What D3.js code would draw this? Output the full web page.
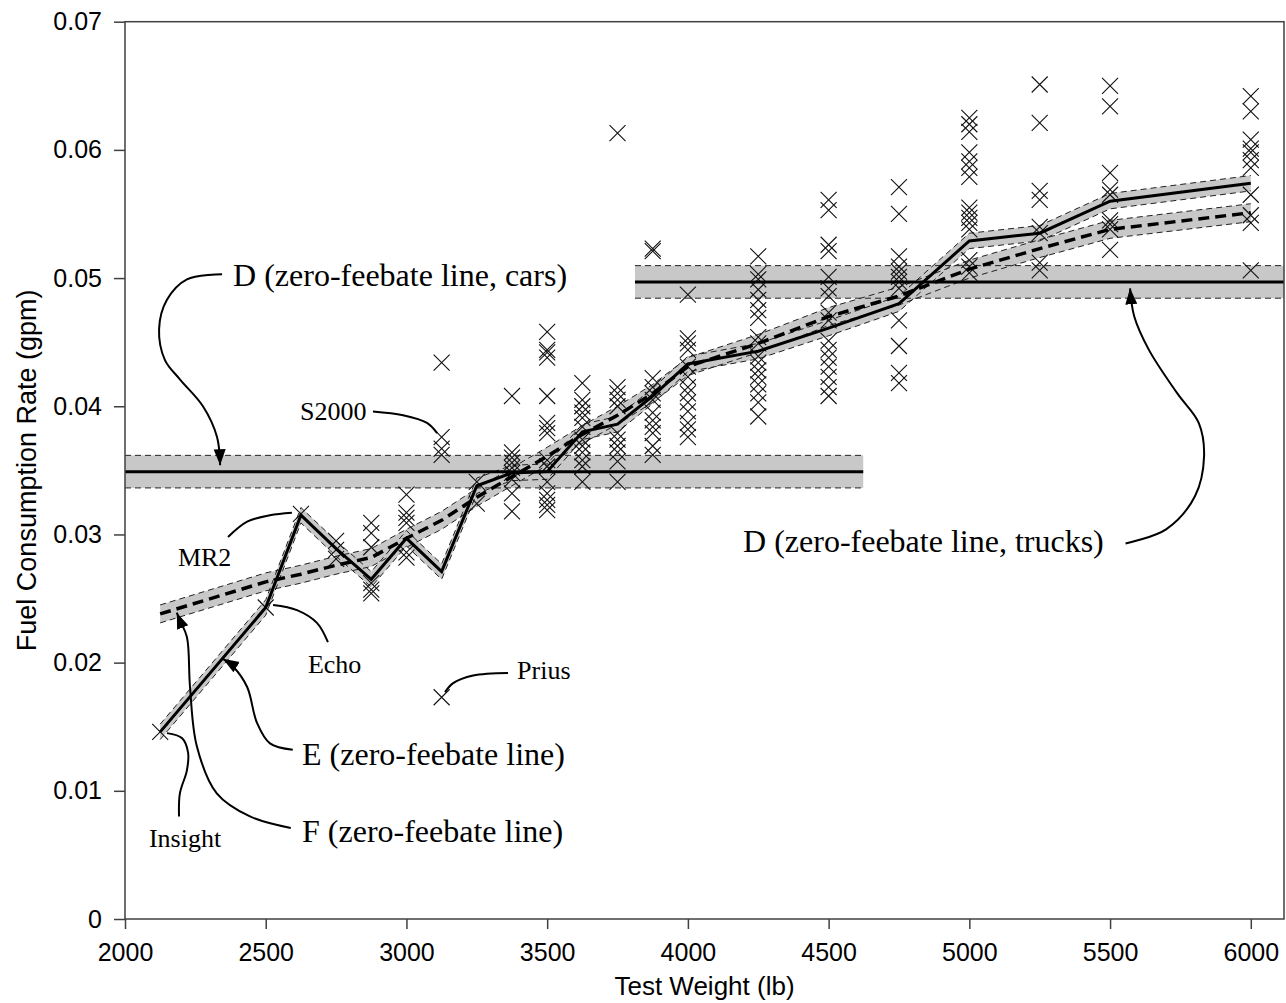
<!DOCTYPE html>
<html>
<head>
<meta charset="utf-8">
<script src="https://cdn.jsdelivr.net/npm/d3@7"></script>
<style>
  body { margin: 0; background: #fff; }
  .tick text { font-family: "Liberation Sans", Arial, sans-serif; font-size: 25px; fill: #000; }
  .tick line { stroke: #404040; stroke-width: 1.5; }
  .note { font-family: "Liberation Serif", "Times New Roman", serif; fill: #000; }
</style>
</head>
<body>
<div id="chart"></div>
<script>
// weight classes used by the two zero-feebate curves
const lineWeights = [2125, 2500, 2625, 2750, 2875, 3000, 3125, 3250, 3375, 3500, 3625,
                     3750, 3875, 4000, 4250, 4500, 4750, 5000, 5250, 5500, 6000];
// E (solid) and F (dashed) zero-feebate lines, gpm
const rateE = [0.0146, 0.0243, 0.0315, 0.0289, 0.0265, 0.0297, 0.0271, 0.0338, 0.0348, 0.0349, 0.0380,
               0.0386, 0.0408, 0.0433, 0.0443, 0.0461, 0.0480, 0.0529, 0.0535, 0.0560, 0.0574];
const rateF = [0.0238, 0.0263, 0.0269, 0.0276, 0.0282, 0.0297, 0.0311, 0.0329, 0.0345, 0.0361, 0.0378,
               0.0393, 0.0410, 0.0431, 0.0449, 0.0470, 0.0486, 0.0507, 0.0523, 0.0538, 0.0551];
const bandE = 0.0006;
const bandF = 0.0007;

// D lines (cars / trucks)
const dCarsSpan = [2000, 4623];
const dCarsRate = 0.0349;
const dTrucksSpan = [3812, 6118];
const dTrucksRate = 0.0497;
const bandD = 0.00127;

// vehicle scatter: one list of rates per test weight class
const scatterWeights = [2125, 2500, 2625, 2750, 2875, 3000, 3125, 3250, 3375, 3500, 3625, 3750,
                        3875, 4000, 4250, 4500, 4750, 5000, 5250, 5500, 6000];
const scatterRates = [
  [0.0146],
  [0.0243],
  [0.0316],
  [0.0295, 0.0288, 0.0281],
  [0.0309, 0.0301, 0.0290, 0.0262, 0.0257, 0.0254],
  [0.0331, 0.0317, 0.0313, 0.0309, 0.0286, 0.0282],
  [0.0434, 0.0376, 0.0367, 0.0362, 0.0173],
  [0.0341, 0.0324],
  [0.0408, 0.0364, 0.0360, 0.0356, 0.0352, 0.0348, 0.0343, 0.0332, 0.0318],
  [0.0458, 0.0444, 0.0442, 0.0438, 0.0408, 0.0387, 0.0383, 0.0379, 0.0358, 0.0353, 0.0341, 0.0332, 0.0327, 0.0323, 0.0319],
  [0.0418, 0.0405, 0.0400, 0.0395, 0.0391, 0.0384, 0.0374, 0.0369, 0.0364, 0.0358, 0.0353, 0.0341],
  [0.0613, 0.0415, 0.0410, 0.0405, 0.0400, 0.0379, 0.0374, 0.0369, 0.0364, 0.0357, 0.0341],
  [0.0523, 0.0521, 0.0422, 0.0415, 0.0410, 0.0405, 0.0395, 0.0389, 0.0384, 0.0379, 0.0369, 0.0362],
  [0.0487, 0.0453, 0.0449, 0.0444, 0.0431, 0.0423, 0.0415, 0.0410, 0.0403, 0.0396, 0.0387, 0.0382, 0.0376],
  [0.0517, 0.0503, 0.0499, 0.0491, 0.0483, 0.0475, 0.0469, 0.0454, 0.0449, 0.0439, 0.0434, 0.0428, 0.0423, 0.0417, 0.0410, 0.0403, 0.0392],
  [0.0561, 0.0553, 0.0526, 0.0521, 0.0501, 0.0492, 0.0486, 0.0473, 0.0467, 0.0451, 0.0444, 0.0438, 0.0431, 0.0423, 0.0415, 0.0408],
  [0.0571, 0.0550, 0.0517, 0.0509, 0.0505, 0.0501, 0.0497, 0.0492, 0.0467, 0.0447, 0.0426, 0.0418],
  [0.0625, 0.0620, 0.0614, 0.0598, 0.0591, 0.0586, 0.0579, 0.0555, 0.0551, 0.0547, 0.0543, 0.0538, 0.0514, 0.0509, 0.0504],
  [0.0651, 0.0621, 0.0568, 0.0561, 0.0540, 0.0535, 0.0512, 0.0506],
  [0.0650, 0.0634, 0.0582, 0.0569, 0.0565, 0.0545, 0.0542, 0.0538, 0.0522],
  [0.0642, 0.0630, 0.0608, 0.0601, 0.0598, 0.0592, 0.0586, 0.0565, 0.0549, 0.0543, 0.0506]
];

const xTicks = [2000, 2500, 3000, 3500, 4000, 4500, 5000, 5500, 6000];
const yTicks = [0, 0.01, 0.02, 0.03, 0.04, 0.05, 0.06, 0.07];

// callouts, in data units: text anchor + leader points (text end -> target)
const notes = [
  {text: "D (zero-feebate line, cars)", big: true, at: [2384, 0.0494], arrow: true,
   path: [[2345, 0.0503], [2220, 0.0499], [2149, 0.0483], [2121, 0.0460], [2142, 0.0436],
          [2195, 0.0421], [2277, 0.0400], [2327, 0.0376], [2338, 0.0354]]},
  {text: "S2000", big: false, at: [2622, 0.0389], arrow: false,
   path: [[2881, 0.0396], [2988, 0.0393], [3073, 0.0387], [3109, 0.0379]]},
  {text: "MR2", big: false, at: [2188, 0.0275], arrow: false,
   path: [[2366, 0.0298], [2434, 0.0310], [2515, 0.0315], [2593, 0.0317]]},
  {text: "Echo", big: false, at: [2650, 0.0192], arrow: false,
   path: [[2721, 0.0216], [2682, 0.0231], [2611, 0.0241], [2526, 0.0245]]},
  {text: "Prius", big: false, at: [3393, 0.0187], arrow: false,
   path: [[3361, 0.0192], [3237, 0.0190], [3166, 0.0184], [3137, 0.0177]]},
  {text: "Insight", big: false, at: [2085, 0.0056], arrow: false,
   path: [[2192, 0.0080], [2195, 0.0098], [2220, 0.0116], [2224, 0.0130], [2203, 0.0141], [2149, 0.0145]]},
  {text: "E (zero-feebate line)", big: true, at: [2629, 0.0120], arrow: true,
   path: [[2596, 0.0132], [2515, 0.0137], [2469, 0.0153], [2434, 0.0181], [2384, 0.0197], [2348, 0.0203]]},
  {text: "F (zero-feebate line)", big: true, at: [2629, 0.0060], arrow: true,
   path: [[2589, 0.0071], [2444, 0.0080], [2326, 0.0098], [2255, 0.0135], [2231, 0.0181],
          [2220, 0.0220], [2195, 0.0233], [2184, 0.0239]]},
  {text: "D (zero-feebate line, trucks)", big: true, at: [4196, 0.0286], arrow: true,
   path: [[5555, 0.0293], [5699, 0.0304], [5802, 0.0330], [5834, 0.0361], [5815, 0.0387],
          [5739, 0.0410], [5638, 0.0444], [5586, 0.0470], [5571, 0.0492]]}
];

const width = 1286, height = 1003;
const margin = {top: 21.7, right: 2, bottom: 84, left: 125};

const svg = d3.select("#chart").append("svg")
  .attr("width", width).attr("height", height);

const x = d3.scaleLinear().domain([2000, 6118]).range([margin.left, width - margin.right]);
const y = d3.scaleLinear().domain([0, 0.07]).range([height - margin.bottom, margin.top]);

svg.append("defs").append("marker")
  .attr("id", "arrow")
  .attr("viewBox", "0 -7 17 14")
  .attr("refX", 16).attr("refY", 0)
  .attr("markerWidth", 17).attr("markerHeight", 14)
  .attr("markerUnits", "userSpaceOnUse")
  .attr("orient", "auto")
  .append("path").attr("d", "M0,-6L16,0L0,6Z").attr("fill", "#000");

// ---- bands ----
const bandFill = "#c8c8c8";
const edgeStyle = sel => sel.attr("fill", "none").attr("stroke", "#222")
  .attr("stroke-width", 1).attr("stroke-dasharray", "6,4");

function flatBand(span, rate) {
  svg.append("rect")
    .attr("x", x(span[0])).attr("width", x(span[1]) - x(span[0]))
    .attr("y", y(rate + bandD)).attr("height", y(rate - bandD) - y(rate + bandD))
    .attr("fill", bandFill);
}
flatBand(dCarsSpan, dCarsRate);
flatBand(dTrucksSpan, dTrucksRate);

const lineData = lineWeights.map((w, i) => ({w: w, e: rateE[i], f: rateF[i]}));

function curveBand(key, d0) {
  svg.append("path").datum(lineData)
    .attr("fill", bandFill)
    .attr("d", d3.area().x(d => x(d.w)).y0(d => y(d[key] - d0)).y1(d => y(d[key] + d0)));
}
curveBand("f", bandF);
curveBand("e", bandE);

// dashed band edges
[[dCarsSpan, dCarsRate], [dTrucksSpan, dTrucksRate]].forEach(([span, rate]) => {
  [rate + bandD, rate - bandD].forEach(v => {
    svg.append("line").call(edgeStyle)
      .attr("x1", x(span[0])).attr("x2", x(span[1]))
      .attr("y1", y(v)).attr("y2", y(v));
  });
});
[["e", bandE], ["f", bandF]].forEach(([key, d0]) => {
  [d0, -d0].forEach(off => {
    svg.append("path").datum(lineData).call(edgeStyle)
      .attr("d", d3.line().x(d => x(d.w)).y(d => y(d[key] + off)));
  });
});

// ---- scatter ----
const pts = [];
scatterWeights.forEach((w, i) => scatterRates[i].forEach(r => pts.push([w, r])));
svg.append("g").selectAll("path").data(pts).enter().append("path")
  .attr("transform", d => "translate(" + x(d[0]) + "," + y(d[1]) + ")")
  .attr("d", "M-8,-8L8,8M-8,8L8,-8")
  .attr("stroke", "#111").attr("stroke-width", 1.1).attr("fill", "none");

// ---- lines ----
[[dCarsSpan, dCarsRate], [dTrucksSpan, dTrucksRate]].forEach(([span, rate]) => {
  svg.append("line")
    .attr("x1", x(span[0])).attr("x2", x(span[1]))
    .attr("y1", y(rate)).attr("y2", y(rate))
    .attr("stroke", "#000").attr("stroke-width", 3);
});
svg.append("path").datum(lineData)
  .attr("fill", "none").attr("stroke", "#000").attr("stroke-width", 3.5)
  .attr("stroke-dasharray", "11,6")
  .attr("d", d3.line().x(d => x(d.w)).y(d => y(d.f)));
svg.append("path").datum(lineData)
  .attr("fill", "none").attr("stroke", "#000").attr("stroke-width", 3)
  .attr("stroke-linejoin", "miter")
  .attr("d", d3.line().x(d => x(d.w)).y(d => y(d.e)));

// ---- frame and axes ----
const x0 = margin.left, x1 = width - margin.right;
const y0 = margin.top, y1 = height - margin.bottom;
svg.append("rect")
  .attr("x", x0).attr("y", y0).attr("width", x1 - x0).attr("height", y1 - y0)
  .attr("fill", "none").attr("stroke", "#404040").attr("stroke-width", 1.5);

svg.append("g")
  .attr("transform", "translate(0," + y1 + ")")
  .call(d3.axisBottom(x).tickValues(xTicks).tickSize(10).tickPadding(14).tickFormat(d3.format("d")))
  .call(g => g.select(".domain").remove());

svg.append("g")
  .attr("transform", "translate(" + x0 + ",0)")
  .call(d3.axisLeft(y).tickValues(yTicks).tickSize(11).tickPadding(12)
    .tickFormat(d => d === 0 ? "0" : d.toFixed(2)))
  .call(g => g.select(".domain").remove());

svg.selectAll(".tick text").attr("font-family", null).attr("font-size", null);

svg.append("text")
  .attr("x", (x0 + x1) / 2).attr("y", 995)
  .attr("text-anchor", "middle")
  .style("font-family", "'Liberation Sans', Arial, sans-serif").style("font-size", "26px")
  .text("Test Weight (lb)");

svg.append("text")
  .attr("transform", "translate(36," + ((y0 + y1) / 2) + ") rotate(-90)")
  .attr("text-anchor", "middle")
  .style("font-family", "'Liberation Sans', Arial, sans-serif").style("font-size", "27px")
  .text("Fuel Consumption Rate (gpm)");

// ---- callouts ----
const leader = d3.line().x(d => x(d[0])).y(d => y(d[1])).curve(d3.curveCatmullRom.alpha(0.5));
notes.forEach(n => {
  svg.append("path").datum(n.path)
    .attr("fill", "none").attr("stroke", "#000").attr("stroke-width", 2)
    .attr("marker-end", n.arrow ? "url(#arrow)" : null)
    .attr("d", leader);
  svg.append("text").attr("class", "note")
    .attr("x", x(n.at[0])).attr("y", y(n.at[1]))
    .style("font-size", n.big ? "32px" : "26px")
    .text(n.text);
});
</script>
</body>
</html>
